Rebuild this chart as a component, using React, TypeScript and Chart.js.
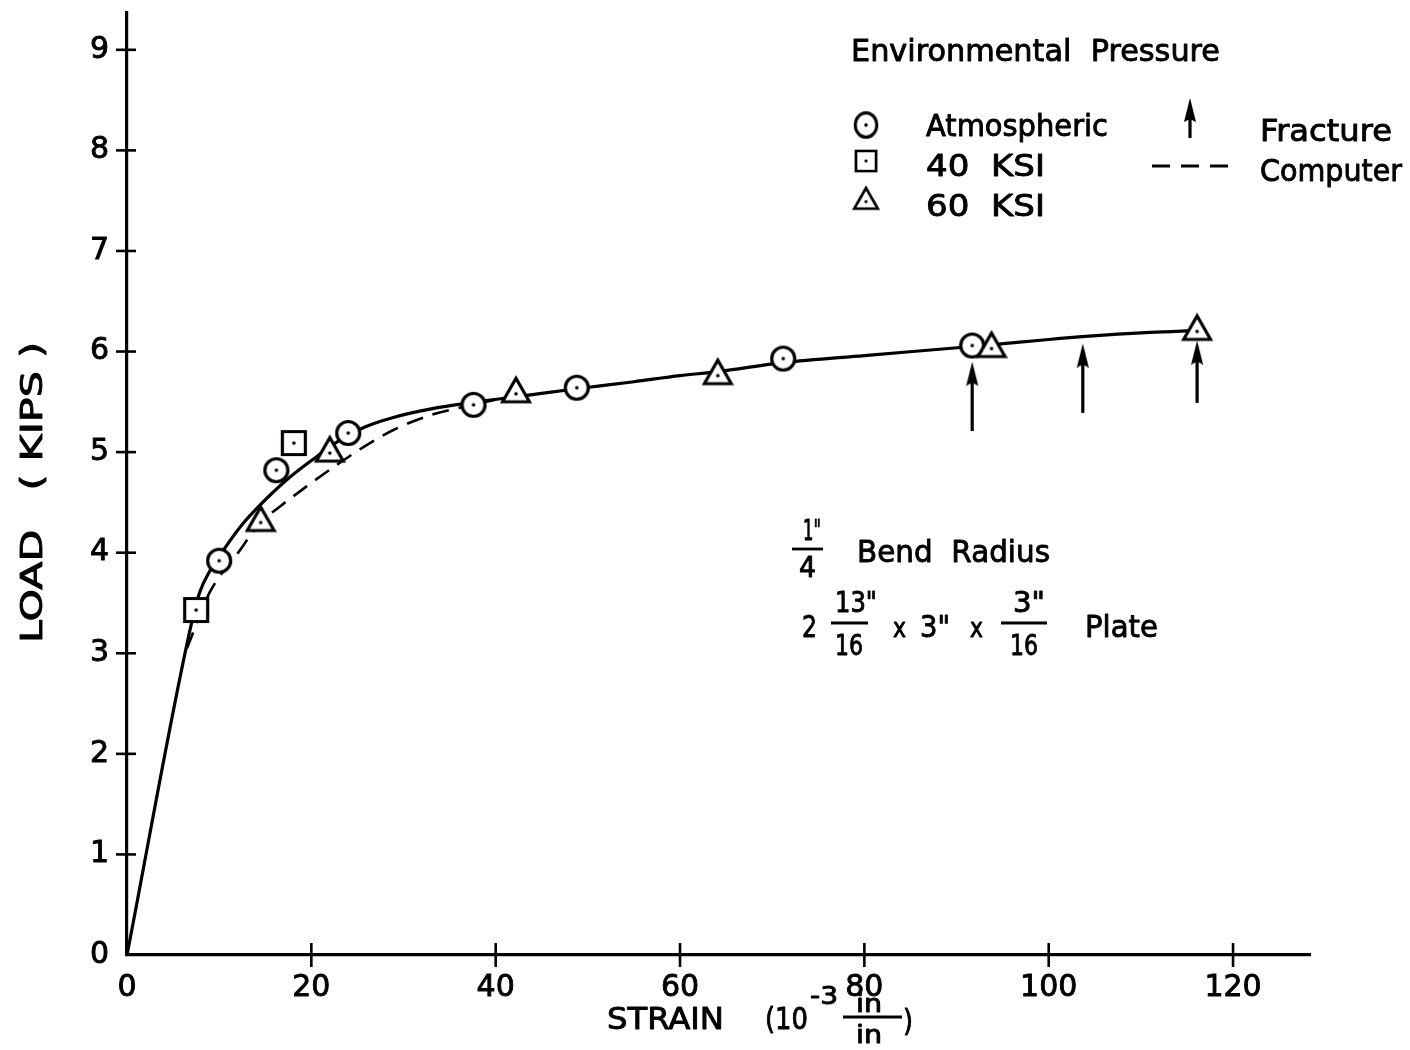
import React, { useEffect, useRef } from "react";
import { Chart, registerables } from "chart.js";

Chart.register(...registerables);

const FONT = '"DejaVu Sans", "Liberation Sans", sans-serif';

// ---- data (strain in 10^-3 in/in, load in kips) ----
const atmX = [10.0, 16.2, 24.0, 37.6, 48.8, 71.2, 91.7];
const atmY = [3.92, 4.82, 5.19, 5.47, 5.64, 5.93, 6.06];

const ksi40X = [7.5, 18.1];
const ksi40Y = [3.43, 5.09];

const ksi60X = [14.5, 22.0, 42.2, 64.1, 93.8, 116.1];
const ksi60Y = [4.33, 5.02, 5.61, 5.79, 6.06, 6.23];

const fitX = [0, 7, 7.9, 9, 10.8, 12.5, 14.4, 17.4, 20.2, 23.1, 25.8, 28.9, 33, 37.6, 42.2, 48.8, 55, 60, 64.1, 71.2, 80, 91.7, 100, 104, 111, 116.1];
const fitY = [0, 3.3, 3.61, 3.82, 4.07, 4.28, 4.47, 4.73, 4.93, 5.12, 5.25, 5.345, 5.43, 5.495, 5.55, 5.63, 5.7, 5.76, 5.8, 5.89, 5.96, 6.05, 6.12, 6.15, 6.19, 6.21];

const compX = [6.5, 9, 11.9, 14.5, 16.6, 19.5, 22.4, 26, 28.9, 33, 37, 40];
const compY = [3.05, 3.61, 3.98, 4.3, 4.46, 4.66, 4.85, 5.07, 5.22, 5.37, 5.46, 5.52];

const fractureX = [91.7, 103.7, 116.1];
const fractureBase = [5.21, 5.39, 5.49];
const fractureShaftEnd = [5.82, 6.0, 6.03];

const xTicks = [0, 20, 40, 60, 80, 100, 120];
const yTicks = [0, 1, 2, 3, 4, 5, 6, 7, 8, 9];

function makeMarker(kind: string): HTMLCanvasElement {
  const c = document.createElement("canvas");
  c.width = 32;
  c.height = 32;
  const g = c.getContext("2d")!;
  g.lineWidth = 3.2;
  g.strokeStyle = "#000";
  g.fillStyle = "#fff";
  g.beginPath();
  if (kind === "circle") g.arc(16, 16, 11.5, 0, Math.PI * 2);
  else if (kind === "square") g.rect(4.5, 4.5, 23, 23);
  else {
    g.moveTo(16, 3.5);
    g.lineTo(29.5, 27);
    g.lineTo(2.5, 27);
    g.closePath();
  }
  g.fill();
  g.stroke();
  g.fillStyle = "#000";
  g.beginPath();
  g.arc(16, kind === "triangle" ? 19 : 16, 1.8, 0, Math.PI * 2);
  g.fill();
  return c;
}

function makeArrowHead(): HTMLCanvasElement {
  const c = document.createElement("canvas");
  c.width = 14;
  c.height = 32;
  const g = c.getContext("2d")!;
  g.fillStyle = "#000";
  g.beginPath();
  g.moveTo(7, 8);
  g.lineTo(13, 32);
  g.lineTo(7, 29);
  g.lineTo(1, 32);
  g.closePath();
  g.fill();
  return c;
}

function fitText(ctx: CanvasRenderingContext2D, text: string, left: number, baseline: number, width: number, size: number) {
  ctx.save();
  ctx.font = `${size}px ${FONT}`;
  ctx.textAlign = "left";
  ctx.textBaseline = "alphabetic";
  ctx.fillStyle = "#000";
  ctx.strokeStyle = "#000";
  const w = ctx.measureText(text).width;
  const k = width / w;
  ctx.translate(left, baseline);
  ctx.scale(k, 1);
  ctx.lineWidth = 0.9;
  ctx.lineJoin = "round";
  ctx.fillText(text, 0, 0);
  ctx.strokeText(text, 0, 0);
  ctx.restore();
}

function bar(ctx: CanvasRenderingContext2D, x1: number, x2: number, y: number) {
  ctx.save();
  ctx.strokeStyle = "#000";
  ctx.lineWidth = 2.8;
  ctx.beginPath();
  ctx.moveTo(x1, y);
  ctx.lineTo(x2, y);
  ctx.stroke();
  ctx.restore();
}

export default function App() {
  const ref = useRef<HTMLCanvasElement | null>(null);

  useEffect(() => {
    const canvas = ref.current;
    if (!canvas) return;
    const circleImg = makeMarker("circle");
    const squareImg = makeMarker("square");
    const triImg = makeMarker("triangle");
    const arrowImg = makeArrowHead();

    const pts = (xs: number[], ys: number[]) => xs.map((x, i) => ({ x, y: ys[i] }));

    const annot = {
      id: "annot",
      beforeDraw(chart: any) {
        const ctx = chart.ctx;
        ctx.save();
        ctx.fillStyle = "#fff";
        ctx.fillRect(0, 0, chart.width, chart.height);
        ctx.restore();
      },
      afterDraw(chart: any) {
        const ctx: CanvasRenderingContext2D = chart.ctx;
        const xs = chart.scales.x;
        const ys = chart.scales.y;
        const area = chart.chartArea;
        // crossing tick marks
        ctx.save();
        ctx.strokeStyle = "#000";
        ctx.lineWidth = 2.6;
        xTicks.forEach((v) => {
          if (v === 0) return;
          const px = xs.getPixelForValue(v);
          ctx.beginPath();
          ctx.moveTo(px, area.bottom - 12);
          ctx.lineTo(px, area.bottom + 12);
          ctx.stroke();
        });
        yTicks.forEach((v) => {
          if (v === 0) return;
          const py = ys.getPixelForValue(v);
          ctx.beginPath();
          ctx.moveTo(area.left - 11, py);
          ctx.lineTo(area.left + 9, py);
          ctx.stroke();
        });
        ctx.restore();

        // legend
        fitText(ctx, "Environmental  Pressure", 851, 61, 369, 31);
        ctx.drawImage(circleImg, 866 - 15, 125 - 17, 30, 34);
        ctx.drawImage(squareImg, 866 - 14, 161 - 14, 28, 28);
        ctx.drawImage(triImg, 866 - 14, 200 - 15, 28, 28);
        fitText(ctx, "Atmospheric", 926, 136, 182, 31);
        fitText(ctx, "40  KSI", 926, 176, 119, 31);
        fitText(ctx, "60  KSI", 926, 216, 119, 31);
        // fracture legend arrow
        ctx.save();
        ctx.strokeStyle = "#000";
        ctx.lineWidth = 3.2;
        ctx.beginPath();
        ctx.moveTo(1190, 138);
        ctx.lineTo(1190, 106);
        ctx.stroke();
        ctx.restore();
        ctx.drawImage(arrowImg, 1190 - 7, 106 - 16);
        fitText(ctx, "Fracture", 1260, 141, 132, 31);
        // computer legend dashes
        ctx.save();
        ctx.strokeStyle = "#000";
        ctx.lineWidth = 2.8;
        ctx.setLineDash([18, 11]);
        ctx.beginPath();
        ctx.moveTo(1152, 166);
        ctx.lineTo(1230, 166);
        ctx.stroke();
        ctx.restore();
        fitText(ctx, "Computer", 1260, 181, 142, 31);

        // specimen note
        fitText(ctx, "1\"", 803, 540, 18, 28);
        bar(ctx, 792, 823, 549);
        fitText(ctx, "4", 799, 577, 17, 28);
        fitText(ctx, "Bend  Radius", 857, 562, 193, 31);

        fitText(ctx, "2", 802, 637, 15, 30);
        fitText(ctx, "13\"", 835, 612, 42, 28);
        bar(ctx, 831, 868, 623);
        fitText(ctx, "16", 835, 655, 28, 28);
        fitText(ctx, "x", 893, 637, 13, 26);
        fitText(ctx, "3\"", 920, 637, 30, 30);
        fitText(ctx, "x", 970, 637, 13, 26);
        fitText(ctx, "3\"", 1013, 612, 32, 28);
        bar(ctx, 1001, 1047, 623);
        fitText(ctx, "16", 1010, 655, 28, 28);
        fitText(ctx, "Plate", 1085, 637, 73, 31);

        // x-axis title
        fitText(ctx, "STRAIN", 607, 1029, 117, 30);
        fitText(ctx, "(10", 765, 1029, 43, 30);
        fitText(ctx, "-3", 810, 1004, 28, 24);
        fitText(ctx, "in", 856, 1012, 26, 24);
        bar(ctx, 843, 902, 1017);
        fitText(ctx, "in", 856, 1043, 26, 24);
        fitText(ctx, ")", 903, 1031, 10, 30);

        // y-axis title
        ctx.save();
        ctx.translate(42, 492);
        ctx.rotate(-Math.PI / 2);
        fitText(ctx, "LOAD   ( KIPS )", -151, 0, 301, 30);
        ctx.restore();
      },
    };

    const tickFont = { family: FONT, size: 30 };

    const chart = new Chart(canvas, {
      type: "scatter",
      data: {
        datasets: [
          { label: "Atmospheric", data: pts(atmX, atmY), pointStyle: circleImg as any, pointRadius: 12, showLine: false, order: 1 },
          { label: "40 KSI", data: pts(ksi40X, ksi40Y), pointStyle: squareImg as any, pointRadius: 12, showLine: false, order: 1 },
          { label: "60 KSI", data: pts(ksi60X, ksi60Y), pointStyle: triImg as any, pointRadius: 12, showLine: false, order: 0 },
          {
            label: "Fit",
            data: pts(fitX, fitY),
            showLine: true,
            borderColor: "#000",
            borderWidth: 3.2,
            pointRadius: 0,
            cubicInterpolationMode: "monotone",
            tension: 0.4,
            order: 3,
          } as any,
          {
            label: "Computer",
            data: pts(compX, compY),
            showLine: true,
            borderColor: "#000",
            borderWidth: 2.6,
            borderDash: [17, 10],
            pointRadius: 0,
            cubicInterpolationMode: "monotone",
            tension: 0.4,
            order: 3,
          } as any,
          ...fractureX.map((x, i) => ({
            label: "Fracture",
            data: [
              { x, y: fractureBase[i] },
              { x, y: fractureShaftEnd[i] },
            ],
            showLine: true,
            borderColor: "#000",
            borderWidth: 3.2,
            pointStyle: arrowImg as any,
            pointRadius: [0, 1],
            order: 2,
          })),
        ],
      },
      options: {
        responsive: false,
        animation: false,
        events: [],
        layout: { padding: { left: 0, top: 8, right: 100, bottom: 0 } },
        plugins: { legend: { display: false }, tooltip: { enabled: false } },
        scales: {
          x: {
            type: "linear",
            min: 0,
            max: 128.35,
            afterBuildTicks: (s: any) => {
              s.ticks = xTicks.map((v) => ({ value: v }));
            },
            afterFit: (s: any) => {
              s.height = 95;
              s.paddingLeft = 0;
              s.paddingRight = 0;
            },
            ticks: { font: tickFont, color: "#000", padding: 15, maxRotation: 0, autoSkip: false, textStrokeColor: "#000", textStrokeWidth: 0.9 },
            grid: { display: false, drawTicks: false },
            border: { display: true, color: "#000", width: 3.2 },
          },
          y: {
            type: "linear",
            min: 0,
            max: 9.366,
            afterBuildTicks: (s: any) => {
              s.ticks = yTicks.map((v) => ({ value: v }));
            },
            afterFit: (s: any) => {
              s.width = 127;
              s.paddingTop = 0;
              s.paddingBottom = 0;
            },
            ticks: { font: tickFont, color: "#000", padding: 18, autoSkip: false, textStrokeColor: "#000", textStrokeWidth: 0.9 },
            grid: { display: false, drawTicks: false },
            border: { display: true, color: "#000", width: 3.2 },
          },
        },
      },
      plugins: [annot],
    } as any);

    return () => chart.destroy();
  }, []);

  return (
    <div style={{ position: "absolute", left: 0, top: 0, width: 1410, height: 1050, background: "#fff" }}>
      <canvas ref={ref} width={1410} height={1050} style={{ display: "block", width: 1410, height: 1050 }} />
    </div>
  );
}
